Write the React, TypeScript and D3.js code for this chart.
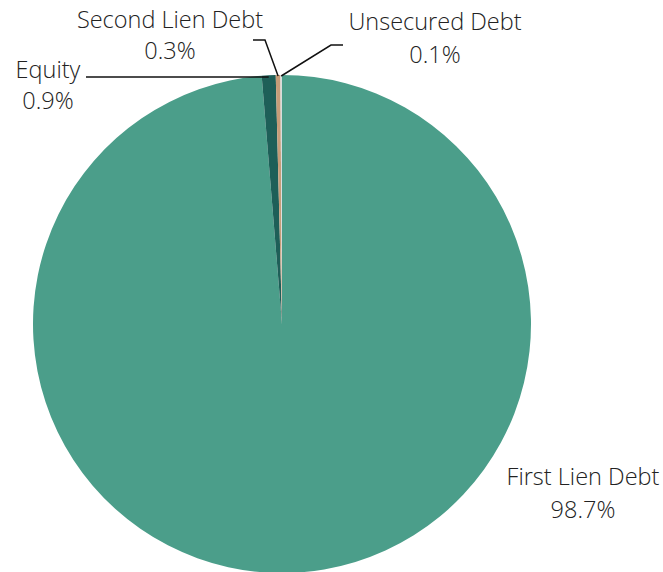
import React from "react";
import * as d3 from "d3";

const categories = ["First Lien Debt", "Equity", "Second Lien Debt", "Unsecured Debt"];
const values = [98.7, 0.9, 0.3, 0.1];
const valueLabels = ["98.7%", "0.9%", "0.3%", "0.1%"];
const colors = ["#4b9e8a", "#1e5f58", "#c69c78", "#d8dcdc"];

// label layout: text center x, first baseline y, leader elbow + end (null = no leader)
const labelLayout = [
  { x: 583, y: 485, dy: 33, leader: null as null | number[][] },
  { x: 48, y: 78, dy: 31, leader: [[86, 77]] },
  { x: 170, y: 28, dy: 31, leader: [[265, 40], [253, 40]] },
  { x: 435, y: 30, dy: 33, leader: [[331, 45], [343, 45]] },
];

const W = 663;
const H = 572;
const cx = 282;
const cy = 324;
const R = 249;

export default function App() {
  const pie = d3
    .pie<number>()
    .sort(null)
    .value((d) => d)
    .startAngle(0)
    .endAngle(2 * Math.PI);
  const arcs = pie(values);
  const arc = d3.arc<d3.PieArcDatum<number>>().innerRadius(0).outerRadius(R);

  return (
    <svg
      width={W}
      height={H}
      style={{ position: "absolute", left: 0, top: 0, background: "#fff" }}
      fontFamily="'Open Sans', sans-serif"
    >
      <g transform={`translate(${cx},${cy})`}>
        {arcs.map((a, i) => (
          <path key={i} d={arc(a) || ""} fill={colors[i]} />
        ))}
      </g>
      {arcs.map((a, i) => {
        const lay = labelLayout[i];
        if (!lay.leader) return null;
        const mid = (a.startAngle + a.endAngle) / 2;
        const px = cx + Math.sin(mid) * R;
        const py = cy - Math.cos(mid) * R + 1;
        const pts = [[px, i === 1 ? lay.leader[0][1] : py], ...lay.leader];
        return (
          <path
            key={"l" + i}
            d={d3.line()(pts as [number, number][]) || ""}
            fill="none"
            stroke="#111"
            strokeWidth={1.5}
          />
        );
      })}
      {categories.map((c, i) => {
        const lay = labelLayout[i];
        return (
          <text
            key={"t" + i}
            x={lay.x}
            y={lay.y}
            textAnchor="middle"
            fontSize={23.5}
            fontWeight={300}
            fill="#222"
          >
            <tspan x={lay.x}>{c}</tspan>
            <tspan x={lay.x} dy={lay.dy}>
              {valueLabels[i]}
            </tspan>
          </text>
        );
      })}
    </svg>
  );
}
